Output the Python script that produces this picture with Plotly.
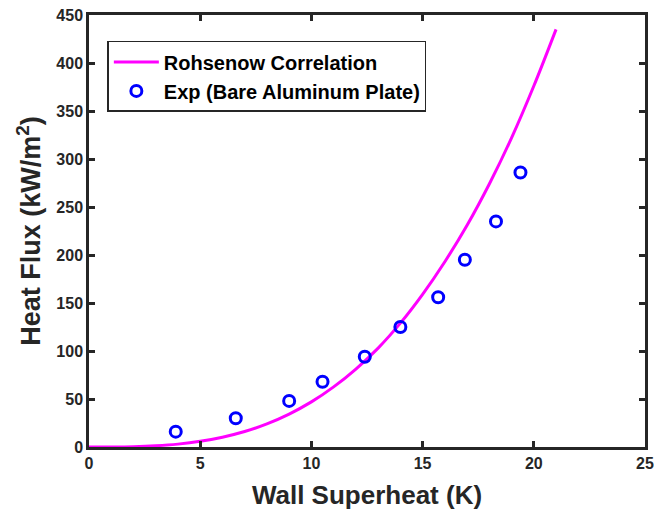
import plotly.graph_objects as go

# Rohsenow correlation curve
curve_x = [0, 1, 2, 3, 4, 5, 6, 7, 8, 9, 10, 11, 12, 13, 14, 15, 16, 17, 18, 19, 20, 21]
curve_y = [0, 0.05, 0.38, 1.3, 3.0, 5.9, 10.2, 16.1, 24.1, 34.3, 47, 62.6, 81.2, 103, 129, 159, 193, 231, 274, 322, 376, 435]

# Experimental data (Bare Aluminum Plate)
exp_x = [3.9, 6.6, 9.0, 10.5, 12.4, 14.0, 15.7, 16.9, 18.3, 19.4]
exp_y = [16, 30, 48, 68, 94, 125, 156, 195, 235, 286]

x_ticks = [0, 5, 10, 15, 20, 25]
y_ticks = [0, 50, 100, 150, 200, 250, 300, 350, 400, 450]

FONT = "Liberation Sans, Arial, sans-serif"
AX = "#262626"

fig = go.Figure()
fig.add_trace(go.Scatter(x=curve_x, y=curve_y, mode="lines", name="Rohsenow Correlation",
                         line=dict(color="#FF00FF", width=3, shape="spline")))
fig.add_trace(go.Scatter(x=exp_x, y=exp_y, mode="markers", name="Exp (Bare Aluminum Plate)",
                         marker=dict(symbol="circle-open", size=11, color="#0000FF",
                                     line=dict(width=3, color="#0000FF"))))

axis_common = dict(showline=True, linecolor=AX, linewidth=2.5, mirror="ticks",
                   ticks="inside", ticklen=6, tickwidth=2.5, tickcolor=AX,
                   showgrid=False, zeroline=False, automargin=False,
                   tickfont=dict(family=FONT, size=16, color=AX, weight="bold"))

fig.update_layout(
    width=654, height=514,
    margin=dict(l=89, r=9, t=15, b=67),
    paper_bgcolor="white", plot_bgcolor="white",
    font=dict(family=FONT, color=AX),
    showlegend=True,
    legend=dict(x=0.033, y=0.94, xanchor="left", yanchor="top",
                bgcolor="white", bordercolor=AX, borderwidth=1.5,
                font=dict(family=FONT, size=20, color="black", weight="bold"),
                itemwidth=45, tracegroupgap=0),
    xaxis=dict(range=[0, 25], tickvals=x_ticks,
               title=dict(text="Wall Superheat (K)", standoff=15,
                          font=dict(family=FONT, size=26, color=AX, weight="bold")),
               **axis_common),
    yaxis=dict(range=[0, 450], tickvals=y_ticks,
               title=dict(text="Heat Flux (kW/m<sup>2</sup>)", standoff=8,
                          font=dict(family=FONT, size=27, color=AX, weight="bold")),
               **axis_common),
)

fig.write_html("out.html")
